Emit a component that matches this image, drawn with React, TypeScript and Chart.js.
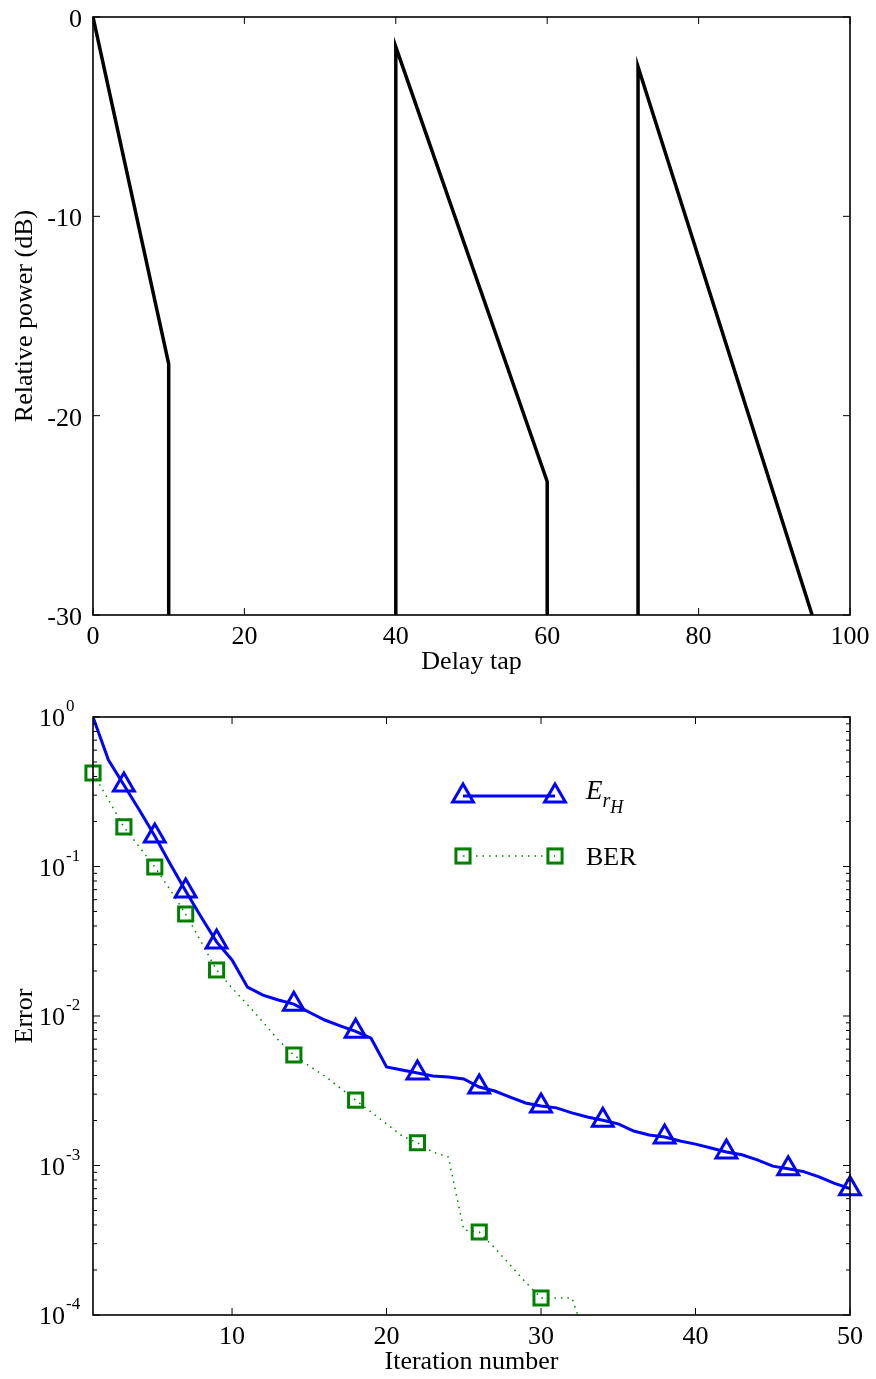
import React, { useEffect, useRef } from "react";
import { Chart, registerables } from "chart.js";

Chart.register(...registerables);

// ---------- Top chart data (power delay profile) ----------
const delayTaps = [0, 10, 10, 25, 40, 40, 60, 60, 66, 72, 72, 95];
const relativePowerDb: (number | null)[] = [0, -17.4, -30, null, -30, -1.5, -23.3, -30, null, -30, -2.5, -30];
const delayTickValues = [0, 20, 40, 60, 80, 100];
const powerTickValues = [0, -10, -20, -30];

// ---------- Bottom chart data (error vs iteration) ----------
const iterations = [
  1, 2, 3, 4, 5, 6, 7, 8, 9, 10, 11, 12, 13, 14, 15, 16, 17, 18, 19, 20, 21, 22, 23, 24, 25,
  26, 27, 28, 29, 30, 31, 32, 33, 34, 35, 36, 37, 38, 39, 40, 41, 42, 43, 44, 45, 46, 47, 48, 49, 50,
];
const errHValues = [
  1.0, 0.515, 0.351, 0.239, 0.16, 0.104, 0.0686, 0.0459, 0.0313, 0.0237,
  0.0156, 0.0138, 0.0128, 0.012, 0.0106, 0.0094, 0.0086, 0.0079, 0.0071, 0.00456,
  0.00435, 0.00416, 0.00397, 0.00391, 0.00379, 0.00335, 0.00315, 0.00287, 0.00262, 0.0025,
  0.00243, 0.00225, 0.00211, 0.00201, 0.0019, 0.0017, 0.0016, 0.00155, 0.00146, 0.00139,
  0.00131, 0.00123, 0.00118, 0.00109, 0.00099, 0.00095, 0.00091, 0.00084, 0.00076, 0.0007,
];
const berIterations = [
  1, 2, 3, 4, 5, 6, 7, 8, 9, 10, 11, 12, 13, 14, 15, 16, 17, 18, 19, 20, 21, 22, 23, 24, 25,
  26, 27, 28, 29, 30, 31, 32, 33,
];
const berValues = [
  0.422, 0.279, 0.184, 0.135, 0.0993, 0.0697, 0.0481, 0.0313, 0.0203, 0.0154,
  0.0119, 0.00912, 0.00691, 0.00548, 0.00463, 0.00397, 0.0033, 0.00274, 0.00228, 0.0019,
  0.00158, 0.00142, 0.00123, 0.00114, 0.000371, 0.000359, 0.000281, 0.000216, 0.000166, 0.00013,
  0.00013, 0.00013, 0.000065,
];
const errHMarkerIterations = [3, 5, 7, 9, 14, 18, 22, 26, 30, 34, 38, 42, 46, 50];
const berMarkerIterations = [1, 3, 5, 7, 9, 14, 18, 22, 26, 30];
const iterationTickValues = [10, 20, 30, 40, 50];
const errorTickExponents = [0, -1, -2, -3, -4];
const errHLabelParts = ["E", "r", "H"];
const berLabel = "BER";

const FONT = '"Liberation Serif", "Times New Roman", Times, serif';
const BLUE = "rgb(0,0,255)";
const GREEN = "rgb(0,128,0)";
const TRI_R = 12;
const SQ_R = 10;
const MARK_W = 3;

type FrameCfg = {
  xTicks: number[];
  yTicks: number[];
  yLog: boolean;
  xTitle: string;
  yTitle: string;
};

function framePlugin(cfg: FrameCfg) {
  return {
    id: "matlabFrame",
    afterDatasetsDraw(chart: any) {
      const { ctx, chartArea: a } = chart;
      const xs = chart.scales.x;
      const ys = chart.scales.y;
      ctx.save();
      ctx.strokeStyle = "#000";
      ctx.lineWidth = 1;
      ctx.beginPath();
      const L = 7;
      const Lm = 4;
      for (const v of cfg.xTicks) {
        const p = xs.getPixelForValue(v);
        ctx.moveTo(p, a.bottom);
        ctx.lineTo(p, a.bottom - L);
        ctx.moveTo(p, a.top);
        ctx.lineTo(p, a.top + L);
      }
      const yVals = cfg.yLog ? cfg.yTicks.map((e) => Math.pow(10, e)) : cfg.yTicks;
      for (const v of yVals) {
        const p = ys.getPixelForValue(v);
        ctx.moveTo(a.left, p);
        ctx.lineTo(a.left + L, p);
        ctx.moveTo(a.right, p);
        ctx.lineTo(a.right - L, p);
      }
      if (cfg.yLog) {
        const emin = Math.min(...cfg.yTicks);
        const emax = Math.max(...cfg.yTicks);
        for (let e = emin; e < emax; e++) {
          for (let k = 2; k <= 9; k++) {
            const p = ys.getPixelForValue(k * Math.pow(10, e));
            ctx.moveTo(a.left, p);
            ctx.lineTo(a.left + Lm, p);
            ctx.moveTo(a.right, p);
            ctx.lineTo(a.right - Lm, p);
          }
        }
      }
      ctx.stroke();
      ctx.lineWidth = 1.6;
      ctx.strokeRect(a.left, a.top, a.right - a.left, a.bottom - a.top);

      ctx.fillStyle = "#000";
      ctx.font = `26px ${FONT}`;
      ctx.textAlign = "center";
      ctx.textBaseline = "alphabetic";
      for (const v of cfg.xTicks) {
        ctx.fillText(String(v), xs.getPixelForValue(v), a.bottom + 29);
      }
      if (cfg.yLog) {
        for (const e of cfg.yTicks) {
          const p = ys.getPixelForValue(Math.pow(10, e));
          ctx.font = `26px ${FONT}`;
          ctx.textAlign = "right";
          ctx.fillText("10", a.left - 28, p + 9);
          ctx.font = `17px ${FONT}`;
          ctx.textAlign = "left";
          ctx.fillText(String(e), a.left - 27, p - 6);
        }
      } else {
        ctx.textAlign = "right";
        for (const v of cfg.yTicks) {
          ctx.fillText(String(v), a.left - 11, ys.getPixelForValue(v) + 10);
        }
      }
      ctx.font = `26px ${FONT}`;
      ctx.textAlign = "center";
      ctx.fillText(cfg.xTitle, (a.left + a.right) / 2, a.bottom + 54);
      ctx.save();
      ctx.translate(a.left - 61, (a.top + a.bottom) / 2);
      ctx.rotate(-Math.PI / 2);
      ctx.fillText(cfg.yTitle, 0, 0);
      ctx.restore();
      ctx.restore();
    },
  };
}

function drawTriangle(ctx: CanvasRenderingContext2D, x: number, y: number, r: number) {
  ctx.beginPath();
  for (let i = 0; i < 3; i++) {
    const ang = (i * 2 * Math.PI) / 3;
    const px = x + Math.sin(ang) * r;
    const py = y - Math.cos(ang) * r;
    if (i === 0) ctx.moveTo(px, py);
    else ctx.lineTo(px, py);
  }
  ctx.closePath();
  ctx.stroke();
}

const legendPlugin = {
  id: "customLegend",
  afterDraw(chart: any) {
    const { ctx, chartArea: a } = chart;
    const x1 = a.left + 370;
    const x2 = a.left + 462;
    const yA = a.top + 79;
    const yB = a.top + 139;
    const tx = a.left + 493;
    ctx.save();
    ctx.strokeStyle = BLUE;
    ctx.lineWidth = 3;
    ctx.beginPath();
    ctx.moveTo(x1, yA);
    ctx.lineTo(x2, yA);
    ctx.stroke();
    ctx.lineWidth = MARK_W;
    drawTriangle(ctx, x1, yA, TRI_R);
    drawTriangle(ctx, x2, yA, TRI_R);
    ctx.strokeStyle = GREEN;
    ctx.lineWidth = 1.5;
    ctx.setLineDash([1.5, 5]);
    ctx.beginPath();
    ctx.moveTo(x1, yB);
    ctx.lineTo(x2, yB);
    ctx.stroke();
    ctx.setLineDash([]);
    ctx.lineWidth = MARK_W;
    const s = SQ_R * Math.SQRT1_2;
    ctx.strokeRect(x1 - s, yB - s, 2 * s, 2 * s);
    ctx.strokeRect(x2 - s, yB - s, 2 * s, 2 * s);
    ctx.fillStyle = "#000";
    ctx.textAlign = "left";
    ctx.textBaseline = "alphabetic";
    ctx.font = `italic 27px ${FONT}`;
    ctx.fillText(errHLabelParts[0], tx, yA + 3);
    const wE = ctx.measureText(errHLabelParts[0]).width;
    ctx.font = `italic 20px ${FONT}`;
    ctx.fillText(errHLabelParts[1], tx + wE, yA + 11);
    const wr = ctx.measureText(errHLabelParts[1]).width;
    ctx.font = `italic 18px ${FONT}`;
    ctx.fillText(errHLabelParts[2], tx + wE + wr, yA + 17);
    ctx.font = `26px ${FONT}`;
    ctx.fillText(berLabel, tx, yB + 9);
    ctx.restore();
  },
};

export default function App() {
  const topRef = useRef<HTMLCanvasElement>(null);
  const botRef = useRef<HTMLCanvasElement>(null);

  useEffect(() => {
    const topChart = new Chart(topRef.current as HTMLCanvasElement, {
      type: "line",
      data: {
        datasets: [
          {
            data: delayTaps.map((x, i) => ({ x, y: relativePowerDb[i] })) as any,
            borderColor: "#000",
            borderWidth: 3.5,
            pointRadius: 0,
            tension: 0,
            spanGaps: false,
            clip: 0 as any,
          },
        ],
      },
      options: {
        animation: false,
        responsive: false,
        events: [],
        layout: { padding: { left: 93, right: 26, top: 17, bottom: 75 } },
        plugins: { legend: { display: false }, tooltip: { enabled: false } },
        scales: {
          x: { type: "linear", min: 0, max: 100, display: false },
          y: { type: "linear", min: -30, max: 0, display: false },
        },
      },
      plugins: [
        framePlugin({
          xTicks: delayTickValues,
          yTicks: powerTickValues,
          yLog: false,
          xTitle: "Delay tap",
          yTitle: "Relative power (dB)",
        }),
      ],
    });

    const errHPoints = iterations.map((x, i) => ({ x, y: errHValues[i] }));
    const berPoints = berIterations.map((x, i) => ({ x, y: berValues[i] }));

    const botChart = new Chart(botRef.current as HTMLCanvasElement, {
      type: "line",
      data: {
        datasets: [
          {
            data: errHPoints as any,
            borderColor: BLUE,
            borderWidth: 3,
            pointRadius: 0,
            tension: 0,
            clip: 0 as any,
          },
          {
            data: errHPoints.filter((p) => errHMarkerIterations.includes(p.x)) as any,
            showLine: false,
            pointStyle: "triangle",
            pointRadius: TRI_R,
            pointBorderWidth: MARK_W,
            pointBorderColor: BLUE,
            pointBackgroundColor: "rgba(0,0,0,0)",
            clip: false as any,
          },
          {
            data: berPoints as any,
            borderColor: GREEN,
            borderWidth: 1.5,
            borderDash: [1.5, 5],
            pointRadius: 0,
            tension: 0,
            clip: 0 as any,
          },
          {
            data: berPoints.filter((p) => berMarkerIterations.includes(p.x)) as any,
            showLine: false,
            pointStyle: "rect",
            pointRadius: SQ_R,
            pointBorderWidth: MARK_W,
            pointBorderColor: GREEN,
            pointBackgroundColor: "rgba(0,0,0,0)",
            clip: false as any,
          },
        ],
      },
      options: {
        animation: false,
        responsive: false,
        events: [],
        layout: { padding: { left: 93, right: 26, top: 27, bottom: 64 } },
        plugins: { legend: { display: false }, tooltip: { enabled: false } },
        scales: {
          x: { type: "linear", min: 1, max: 50, display: false },
          y: { type: "logarithmic", min: 1e-4, max: 1, display: false },
        },
      },
      plugins: [
        framePlugin({
          xTicks: iterationTickValues,
          yTicks: errorTickExponents,
          yLog: true,
          xTitle: "Iteration number",
          yTitle: "Error",
        }),
        legendPlugin,
      ],
    });

    return () => {
      topChart.destroy();
      botChart.destroy();
    };
  }, []);

  return (
    <div style={{ position: "absolute", left: 0, top: 0, width: 876, height: 1379, background: "#fff" }}>
      <canvas ref={topRef} width={876} height={690} style={{ display: "block", width: 876, height: 690 }} />
      <canvas ref={botRef} width={876} height={689} style={{ display: "block", width: 876, height: 689 }} />
    </div>
  );
}
